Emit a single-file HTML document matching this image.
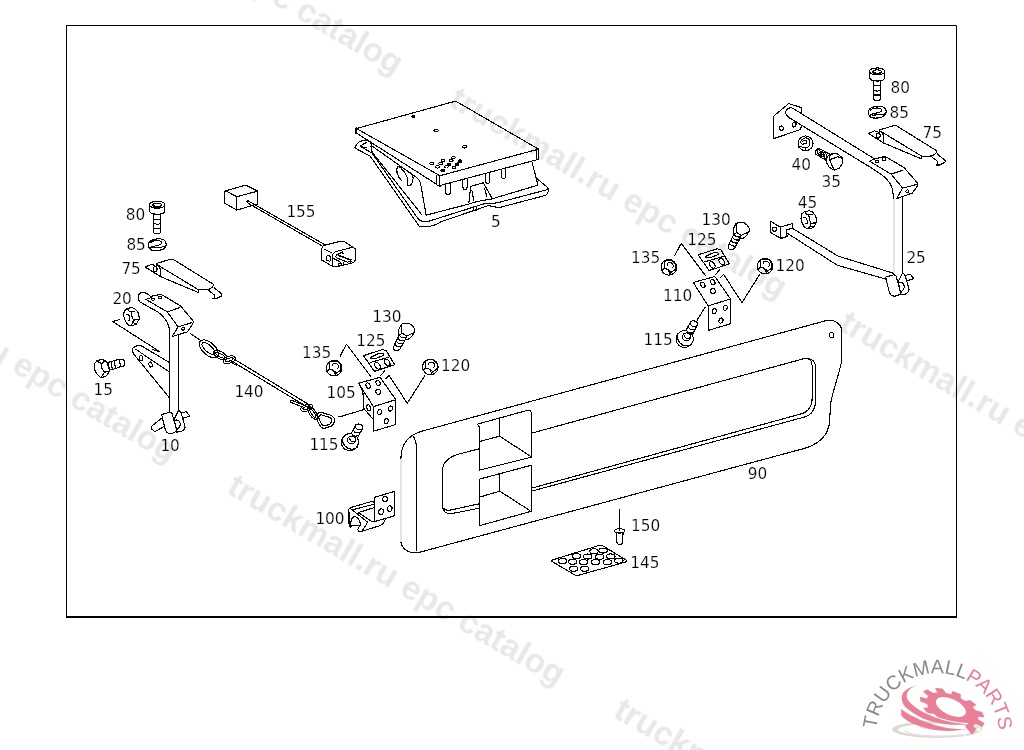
<!DOCTYPE html>
<html><head><meta charset="utf-8"><title>EPC catalog</title>
<style>
html,body{margin:0;padding:0;background:#fff;}
body{width:1024px;height:750px;overflow:hidden;position:relative;}
svg{position:absolute;left:0;top:0;display:block;}
.wm{text-rendering:geometricPrecision;font-family:"Liberation Sans",sans-serif;font-weight:bold;font-size:33.4px;fill:#e8e8e8;}
.lb{font-family:"DejaVu Sans",sans-serif;font-size:15.3px;fill:#000;stroke:#fff;stroke-width:.2px;}
.p{shape-rendering:crispEdges;fill:none;stroke:#000;stroke-width:1.1;stroke-linejoin:round;stroke-linecap:round;}
.pf{fill:#fff;stroke:#000;stroke-width:1;stroke-linejoin:round;stroke-linecap:round;}
</style></head><body>
<svg width="1024" height="750" viewBox="0 0 1024 750">
<!-- WATERMARKS -->
<g id="wm" opacity="0.999">
<text class="wm" transform="translate(63.5 -119) rotate(30.4)">truckmall.ru epc catalog</text>
<text class="wm" transform="translate(-162.5 269) rotate(30.4)">truckmall.ru epc catalog</text>
<text class="wm" transform="translate(447.5 105) rotate(30.4)">truckmall.ru epc catalog</text>
<text class="wm" transform="translate(225.5 492) rotate(30.4)">truckmall.ru epc catalog</text>
<text class="wm" transform="translate(837.5 329) rotate(30.4)">truckmall.ru epc catalog</text>
<text class="wm" transform="translate(612 716) rotate(30.4)">truckmall.ru epc catalog</text>
</g>
<!-- FRAME -->
<path d="M66.5 25.5H956.5V616.5" fill="none" stroke="#000" stroke-width="1"/>
<path d="M66.5 25V617" fill="none" stroke="#000" stroke-width="1"/>
<path d="M66 617H957" fill="none" stroke="#000" stroke-width="2"/>
<!-- PARTS -->
<g id="parts" class="p" transform="translate(0.13 0.13)">
<!-- 5 box -->
<path d="M356.4 128.4L454 101.4C455.5 101 456.5 101.4 458 102.4L538.4 149L439.8 175.6Z"/>
<path d="M356.4 128.4V133L436.8 184.4L436.8 175.6M439.8 175.6V185.4L536 159.8M538.4 149V159.2L536 159.8V150" />
<path d="M356.1 128.2V133.2" stroke-width="2"/>
<path d="M437 185L440 186.2"/>
<!-- holes on lid -->
<circle cx="413" cy="116.4" r="1.3" fill="#000"/>
<ellipse cx="436" cy="130.4" rx="2.1" ry="1.5"/>
<ellipse cx="464.6" cy="146.4" rx="2.1" ry="1.5"/>
<g stroke-width="1">
<ellipse cx="431.6" cy="163.4" rx="1.9" ry="1.3"/>
<ellipse cx="440.6" cy="163.4" rx="1.9" ry="1.3"/>
<ellipse cx="443" cy="160.5" rx="1.9" ry="1.3"/>
<ellipse cx="437.3" cy="166.7" rx="1.9" ry="1.3"/>
<ellipse cx="446.3" cy="166.6" rx="1.9" ry="1.3"/>
<ellipse cx="448.9" cy="164.1" rx="1.9" ry="1.3" fill="#000"/>
<ellipse cx="451.1" cy="160.6" rx="1.9" ry="1.3"/>
<ellipse cx="453.3" cy="157.5" rx="1.9" ry="1.3"/>
<ellipse cx="453.8" cy="167.4" rx="1.9" ry="1.3"/>
<ellipse cx="457.1" cy="164.1" rx="1.9" ry="1.3" fill="#000"/>
<ellipse cx="459.9" cy="161" rx="1.9" ry="1.3" fill="#000"/>
<ellipse cx="442.6" cy="170.2" rx="1.9" ry="1.3" fill="#000"/>
</g>
<!-- left flange & walls -->
<path d="M363 140.4C359 141 357 142.5 354.6 147.8L370 156L419 226"/>
<path d="M360 146L366 142.4M360 146.4L366.5 147.5"/>
<path d="M360.5 146.5L372 153L416 216C418 219 422 222.6 427 221.6"/>
<path d="M363 140.4C367 139.6 370.4 141.4 371 143.4L372 146L417 177.8C419 179.5 420 181 420.4 183L426 215"/>
<path d="M370.8 146L372 152L421.5 214.4"/>
<path d="M397.8 165.8C396 169 396 175 401.4 180.6M397.8 165.8C402 168 407 175 407.4 178.5C407.8 182 406 184.5 407.6 185.6C410 186.6 413 183 413 178C413 175 411.5 173.5 409.8 172.4"/>
<!-- pegs -->
<path d="M445.6 185V192.6C445.6 195.6 450.2 195.6 450.2 192.6V183.8"/>
<path d="M462.8 180.4V187C462.8 190 467 190 467 187V179.2"/>
<path d="M485.6 174.2V181C485.6 184 489.8 184 489.8 181V173"/>
<path d="M501.2 170V176.2C501.2 179 505.4 179 505.4 176.2V168.8"/>
<!-- tab -->
<path d="M468.8 202.4L470.6 186.2L483.2 182.6L491.6 197.6M471.8 190.4L473.6 200.6M484.4 188L486.8 197"/>
<!-- right wall and flange -->
<path d="M531.8 161.6L537.8 185L491.6 198.8C484 200.4 478 200.4 470 203.6L426 215"/>
<path d="M536 177.8L546.8 186.8C549 189 549 192 545.6 195.2L500 207.2C496 208.2 492 204.6 486 206L479.6 208.4L441 221.6C437 224 433 226.2 428 226.2L419 226"/>
<path d="M547.6 189.4L497.6 202.6C492 204 486 202 478.4 205.4L427 221.6"/>
<ellipse cx="474.8" cy="208.6" rx="1.8" ry="2.2"/>
<!-- 100 hinge -->
<path d="M374.5 497.2L394.5 491.2L394.8 515.5L374.5 521.5Z"/>
<ellipse cx="385" cy="499" rx="2.4" ry="2.8" transform="rotate(20 385 499)"/>
<ellipse cx="389.5" cy="508.5" rx="2.4" ry="2.8" transform="rotate(20 389.5 508.5)"/>
<ellipse cx="381" cy="511.5" rx="2.4" ry="2.8" transform="rotate(20 381 511.5)"/>
<path d="M374.5 502.5L372 501.2L350 507.5L348.5 509.5L349 526L350.5 527.5M353 509.5L374 504M358 512.5L374 507.5M350 508L367.5 522M358 512.5L372 521.5H374.5"/>
<path d="M367.5 522L362 531H358.5L357.5 529.5L360 525M362 531L380 525.5C383 524 384.5 521.5 385 519.5"/>
<path d="M350.5 526L351 520C351.6 518 352.6 517 354 516.5C355.4 516.4 356.6 517 357.5 518C359 519.6 359.8 521.4 360 523V525Z"/>
<path d="M349.4 512V526.5"/>
<!-- 150 rivet, 145 mat -->
<path d="M619.5 509V530"/>
<ellipse cx="619.5" cy="530.8" rx="5.2" ry="2.1"/>
<path d="M616.3 532.8L616.8 542C617.4 545.4 622 545.4 622.6 542L622.9 532.8"/>
<path d="M553 559.6L598 545.6C600 545 602 545.2 603.6 546.2L625.4 559.6C627 560.8 626.6 561.6 625 562L579 575C577 575.6 575.4 575.4 574 574.4L552.4 561.6C551 560.6 551.6 560 553 559.6Z"/>
<g>
<ellipse cx="593.9" cy="551.1" rx="4.2" ry="2.5"/><ellipse cx="603" cy="550.4" rx="4.2" ry="2.5"/>
<ellipse cx="576.4" cy="556" rx="4.2" ry="2.5"/><ellipse cx="587.6" cy="556.4" rx="4.2" ry="2.5"/><ellipse cx="599.5" cy="556.7" rx="4.2" ry="2.5"/><ellipse cx="610.7" cy="556.3" rx="4.2" ry="2.5"/>
<ellipse cx="562.4" cy="560.9" rx="4.2" ry="2.5"/><ellipse cx="572.5" cy="561.6" rx="4.2" ry="2.5"/><ellipse cx="583.4" cy="562" rx="4.2" ry="2.5"/><ellipse cx="595.3" cy="562" rx="4.2" ry="2.5"/><ellipse cx="607.2" cy="562" rx="4.2" ry="2.5"/><ellipse cx="618.7" cy="560.5" rx="4.2" ry="2.5"/>
<ellipse cx="573.6" cy="568.6" rx="4.2" ry="2.5"/><ellipse cx="584.5" cy="568.6" rx="4.2" ry="2.5"/>
</g>
<!-- hinge groups -->
<defs>
<g id="hcommon">
<!-- bolt 130 -->
<path d="M401.2 324.3L403.6 323.1L409 323.1L412.6 326.1L414.7 329.4C415 331 414.6 332 413.8 333L411.4 336.6L407.8 339.3L405.4 339.6"/>
<path d="M401.2 324.3L401.8 333L406.4 336L413.8 332.6M401.2 324.3L398.5 329.4L398.8 335.4L401.8 333M406.4 336L405.4 339.6"/>
<path d="M398.8 335.4L393.4 346.6C393 349 394 350.4 396 350.7C397.6 350.8 399 350 400 348.6L405.6 338.6"/>
<path d="M397.6 338C398.6 340 401.6 341 404 340.6M396.2 341C397.2 343 400.2 344 402.6 343.6M394.8 344C395.8 346 398.8 347 401.2 346.6M399.4 335.4C400.4 337 403 338 405.4 337.6"/>
<!-- plate 125 -->
<path d="M363.3 355.5L382.6 349.4L386.2 350.7L394.5 364.6L374.3 371.2Z"/>
<path d="M370.3 357.3L378.2 353.6H383.1L384 354.9L375.6 358.4H370.8Z"/>
<path d="M369.9 362.4L388.8 357.1"/>
<ellipse cx="377.4" cy="365.6" rx="2.3" ry="3.7" transform="rotate(-35 377.4 365.6)"/>
<ellipse cx="387" cy="362.4" rx="2.3" ry="3.7" transform="rotate(-35 387 362.4)"/>
<!-- nut 135 -->
<g id="fnut">
<circle cx="334" cy="368" r="7.8"/>
<path d="M329.6 362.2L331.6 361L336.8 361L339.2 363L340.8 365.4V369.4L338.8 371.4L336.4 372.6L333.2 370.2L329.6 369Z"/>
<path d="M332.4 365.8V364.2C333 363.4 333.6 363.2 334 363.2L336.4 363.4C337.2 363.8 337.6 364.4 338 365L338.6 367.4L337.2 368.6"/>
<path d="M329.6 369L327.4 371M333.2 370.2L335.2 374M336.4 372.6L335.2 374.4"/>
</g>
<!-- nut 120 -->
<use href="#fnut" transform="translate(96.2 -1.2)"/>
<!-- leaders -->
<path d="M340 356L346.4 344L370.4 376M424.8 375.2L407.2 403.2L388.8 375.2L385.6 378.4M384.8 370.4L380.8 375.2"/>
<!-- bracket -->
<path d="M358.4 383.1L380 377.2L395.7 399.6L373.3 406.5ZM373.3 406.5V431.1L395.7 424.4V399.6"/>
<ellipse cx="368" cy="385.5" rx="2" ry="2.8" transform="rotate(-25 368 385.5)"/>
<ellipse cx="377.9" cy="382.8" rx="2" ry="2.8" transform="rotate(-25 377.9 382.8)"/>
<ellipse cx="378.1" cy="391.6" rx="2.4" ry="2.6" transform="rotate(-25 378.1 391.6)"/>
<ellipse cx="379.5" cy="411.9" rx="2" ry="2.6" transform="rotate(20 379.5 411.9)"/>
<ellipse cx="390.4" cy="408.4" rx="2" ry="2.6" transform="rotate(20 390.4 408.4)"/>
<ellipse cx="386.1" cy="421.2" rx="2" ry="2.6" transform="rotate(20 386.1 421.2)"/>
</g>
<g id="b115">
<ellipse cx="349.8" cy="442" rx="8.7" ry="8.4" transform="rotate(-30 349.8 442)"/>
<path d="M342.6 438.6C342 444 346 448.6 351 449C353.6 449.2 355.6 448.4 357 447"/>
<ellipse cx="351.6" cy="439.8" rx="4.2" ry="3.8"/>
<path d="M349.6 438.6C350 441 352 442 354.6 441"/>
<path fill="#fff" d="M351 433.5L355.8 424.7C357 423.6 360 423.6 361.4 424.8C362.4 425.6 362.8 426.6 362.7 427.6L357.9 437"/>
<path d="M355.5 427.1C356 428.6 357 429.4 358.4 429.6C359.6 429.8 360.8 429.6 361.7 429.2M353.7 430.5C354.2 432 355.2 432.6 356.6 432.8C357.8 433 359 432.6 360.1 432.1M351.8 433.7C352.4 435.2 353.4 435.8 354.8 436C356 436.2 357.4 435.8 358.5 435.1"/>
</g>
</defs>
<use href="#hcommon"/>
<use href="#b115"/>
<path d="M358.4 383.1L362.7 390.8L363.7 408.4L373.3 419.6M339.2 416.7L363.2 409.7"/>
<ellipse cx="368.5" cy="407.6" rx="1.8" ry="3.2" transform="rotate(-15 368.5 407.6)"/>
<use href="#hcommon" transform="translate(334.7 -100.8)"/>
<use href="#b115" transform="translate(334.8 -103.2)"/>
<path d="M697 320L705 307"/>
<!-- 10 bracket left, 20 nut, 15 bolt -->
<path d="M138.4 298C138 295 139 293.2 141 292.4C143.2 291.6 146 293 148.6 294.6L150.4 296.2L160 294.4L162.4 295L180.4 305.8L193 320.8C193.4 322 193 323 192.4 323.8L187.6 331.6L172 336.4"/>
<path d="M187.6 331.6L178.4 334.6L178.6 411"/>
<path d="M138.4 298C138.6 300 139 301 139.8 301.8L157.6 311.8C161 314 163.6 316.6 165.4 319.6C167.6 323 169 325.6 169.2 329L169.5 411"/>
<path d="M145.6 299.2L167.2 311.8L178 326.8L172 336.4M167.2 311.8L179.2 307.6M178 326.8L191.2 322.6M145.6 299.2L151 297.6"/>
<ellipse cx="152.8" cy="299" rx="1.5" ry="1.1"/>
<ellipse cx="159.8" cy="297.4" rx="1.7" ry="1.3"/>
<ellipse cx="183" cy="328.6" rx="1.5" ry="1.3" transform="rotate(-30 183 328.6)"/>
<!-- leader -->
<path d="M119.2 319.4L112.6 321.4L159.4 351.4L152.4 349.4"/>
<!-- gusset -->
<path d="M169.2 362.4L140.8 345.4L135.4 346L132.4 348.4L133 353.2L169.2 397.6M135.4 349L169.2 371.8"/>
<ellipse cx="141" cy="358" rx="1.6" ry="2.6" transform="rotate(-10 141 358)"/>
<ellipse cx="150.4" cy="364.4" rx="1.6" ry="2.6" transform="rotate(-10 150.4 364.4)"/>
<!-- clamp -->
<path d="M161.5 414.5L170 412L172 413.5L176.5 430C176.6 431.4 175.4 432 174 432.5C172.6 433.2 171.4 433.5 170 433.5C168.6 433.5 167.4 432.8 166.5 432C165.6 431 165.2 430 165 429Z"/>
<path d="M161.5 418L151.5 426C151 427 151 428 151.5 429L155 431.5L163.5 426.5"/>
<path d="M178.7 410L174 419L176 428L176.5 432L181 431.5C182.6 430.8 183.8 429.6 184.5 428.5C185 427.6 185 426.8 184.8 426L182.5 418L181 413Z"/>
<path d="M175 420C177 419.6 178.4 420.2 179 421C180 422.4 180.4 423.6 180 425C179.6 426.8 178.4 428.4 177 429.5"/>
<path d="M181 413L186 411.5L189.8 416L183 418"/>
<!-- nut 20 -->
<g id="nut20">
<path d="M123.5 315.1L124.2 310.6L127.2 308.3L131.7 307.4L134.7 308.5L137.6 311.7L138.8 315.1L139.1 318.8L137.6 321.4L136.2 324L132 325.5L129.4 325.5L126.5 323.3L124.6 319.5Z"/>
<path d="M127.2 308.3L129.1 311L131.3 311.7L132 316.9L133.5 319.9L132.4 322.9L130.9 325.3M129.1 311.3H134.7M133.5 319.9L138.8 319.5M132.6 322.6L136.4 323.6"/>
<path d="M126.1 314.3C127.4 314.1 128 314.3 128.3 314.7C129.2 315.4 129.6 316 129.6 316.9V320.3L127.9 320.5"/>
</g>
<!-- bolt 15 -->
<g id="bolt15">
<path d="M94.2 368.7L94.4 363.4L96.8 360.6L101.6 359.3L104.7 360.4L106.9 362.6L108.2 366.5L109.6 370.9L107.4 374L105.6 376.4L100.8 377.5L96.8 374L95 370.5Z"/>
<path d="M96.8 360.6L99 362.3L101.6 363.4L101.2 367L104.3 372.2L100.8 377.5M101.6 363.4L104.7 360.4M104.3 372.2L108.6 370.9"/>
<path d="M106.9 362.6L112.6 361L115.3 360.1L119.7 359.3L122.8 359C124 360 124.6 361 124.5 361.7V364.3C124.4 365.4 123.6 366 122.8 366.5L118.8 367L115.3 368.5L109.6 369.8"/>
<path d="M111.3 362.3L112 368.9M114.4 361.2L115.3 368.5M119.5 359.5L120.3 366.5M108.4 363.4L109.2 369.6"/>
</g>
<!-- 140 chain -->
<path d="M189.8 333L200.2 340.2"/>
<g transform="rotate(42 208.7 348.7)">
<ellipse cx="208.7" cy="348.7" rx="11.4" ry="6.2"/>
<ellipse cx="208" cy="348.7" rx="8" ry="3.4"/>
</g>
<g transform="rotate(28 221 355.6)">
<ellipse cx="220" cy="355.6" rx="7.4" ry="3.6"/>
<ellipse cx="220" cy="355.6" rx="5" ry="1.6"/>
</g>
<g transform="rotate(-18 229 359.6)">
<ellipse cx="229" cy="359.6" rx="6.4" ry="3.4"/>
<ellipse cx="229" cy="359.6" rx="4" ry="1.4"/>
</g>
<path d="M232 357.8L309 404.6M230.6 360.4L305 405.6M231 362L236 365"/>
<path d="M290.6 400.6C290 401.6 290.6 402.4 291.4 402.6L300.4 406M291.6 400.2L301 404"/>
<g transform="rotate(-18 306.6 407.6)">
<ellipse cx="306.6" cy="407.6" rx="6.4" ry="3.2"/>
<ellipse cx="306.6" cy="407.6" rx="4" ry="1.3"/>
</g>
<g transform="rotate(55 312.6 413)">
<ellipse cx="312.6" cy="413" rx="7.6" ry="3.2"/>
<ellipse cx="312.6" cy="413" rx="5.2" ry="1.4"/>
</g>
<path d="M315.4 417C316 414 318 412.4 321 412.2L329 414.6C332 415.6 334.8 418 334.6 420.2C334.4 422.6 333 424.6 331.4 425.8L324.2 428.2C322 428.6 320 426 318.6 423.4Z"/>
<path d="M318.4 417.4C318.8 415.6 320 414.6 321.6 414.8L328 416.8C330 417.4 331.8 419 331.6 420.4C331.4 422 330.6 423.4 329.4 424.2L324.4 425.8C323 426 321.6 424.4 320.6 422.4Z"/>
<path d="M338.6 416.7L345 415.4"/>
<!-- 155 cable -->
<path d="M225.6 190.6L245.4 185L257.4 191L236.6 196.6ZM224.6 192V203L236.6 210V196.6M257.4 191V203.8L236.6 210M224.6 192L225.6 190.6"/>
<path d="M247.8 200.6L325.4 245M247 202.5L321.6 245.6M247 202.5C246.6 201.4 247 200.6 247.8 200.6"/>
<path d="M321.2 249.4L322.7 246L324.6 245.1L340 241.2H343.8L352 246.5L355.3 248.9L355.8 259L353.4 262.4L350.5 263.3L338 266.2L333.2 266.7L321.7 260Z"/>
<path d="M352.4 247L343.8 249.4L335.2 251.6L332.3 254.2L332 265.9M324.8 249.2L331.8 252.8"/>
<path d="M326.5 256.2L328 255.2L330.4 256.6V260.6L329.4 261.2L326.5 260Z"/>
<path d="M336.4 254.8L342.4 251.8L343 254M337.4 254.8L351.6 259.8M336.4 257.6L347.6 262.2M339.4 255.8L350.6 260M333 258L340.6 262.2M336.4 254.8C335.4 256 335.6 257 336.4 257.6M338 263.4H341V265.2H338ZM348 261.2H351L350.6 262.8M343 262.4L343.4 264.6"/>
<!-- 80 bolt left, 85 washer left, 75 plate left -->
<g id="bolt80">
<ellipse cx="157" cy="204.6" rx="7.7" ry="3.5"/>
<path d="M149.3 204.6V210C149.3 212 151 213.4 153.2 213.8M164.7 204.6V210C164.7 212 163 213.4 161 213.8M153.2 213.6C155.5 214.4 158.5 214.4 161 213.6"/>
<ellipse cx="157" cy="205" rx="4.3" ry="1.9"/>
<path d="M154.4 205.8C156 207.4 158.4 207.4 160 205.8" stroke-width="1.4"/>
<path d="M153.5 213.8V231.6C153.5 234.4 160.5 234.4 160.5 231.6V213.8M153.5 219H160.5M153.5 223.2C155 223 156 224.4 157.2 224.4C158.4 224.4 159.4 223 160.5 223.2M153.5 228.2H160.5"/>
</g>
<g id="washer85">
<path d="M148.4 244.6C148.4 241.6 150.4 240.4 153 239.6C156 238.6 160 238.4 163 239.4C165.4 240.4 166 242.6 166 244.4C166 246.6 164.6 248.2 163 249C160.4 250.4 156.4 250.8 153 250.4C150.4 250 148.4 248 148.4 244.6Z"/>
<path d="M150 242.6C152 240.8 156 240.2 159 240.6C161.4 241 162 242.4 161 243.8C160 245 158 245.2 156 245.6L152 246.6C150.4 247.2 150 248 150.6 248.6M152 247.6L160 247.2L164.6 246.4"/>
</g>
<g id="plate75">
<path d="M156 263.5L170 259.2H173L213.8 284.5C213 286.6 211.4 288.2 210 288.6C208.4 289.4 207 289.6 205 289.7H198.5V292.5L160.4 276.5"/>
<path d="M157.4 264.8L198.5 289.7M156 263.5V266.5M157.4 264.8L160.5 269V276.5"/>
<path d="M154 265L151 264.3L145.2 267L160.4 276.5"/>
<ellipse cx="155" cy="269" rx="1.9" ry="2.6"/>
<path d="M214 287.5L221.8 294C222 295 221.8 295.6 221.5 295.8L216 298.5H212.5M214.5 295V298M207.5 289.6L214.5 295"/>
</g>
<!-- 90 panel -->
<path d="M401 458.5V541.5" stroke="#e4e4e4" stroke-width="2" stroke-linecap="butt"/>
<path d="M400.8 458C401 445 408 435 422 431L824 321C828 320 838 318.5 841.6 329L841.6 360C840 372 832 392 830.4 404L829.6 420C829 436 818 446 796 450.5L420 552C413 554 403 552 400.8 542"/>
<path d="M413 436C415 439 416.4 443 416.4 448V550.5"/>
<path d="M479.4 448.6L460 453.6C450 456 442.4 462 442.4 470V506C442.4 510 445 514 451 513.6L479.4 508"/>
<path d="M443.5 508C445 510 447 510.6 450 510L479.4 503.6"/>
<path d="M531.6 433L802 359C806 358 815.6 357 815.6 368V398C815.6 408 812 415 804 417L531.6 491"/>
<path d="M807 358.6C810 359 812 361 812 366V398C812 406 808 412 800 414L531.6 488"/>
<path d="M477.4 424L528 410C530 409.6 531.6 412 531.6 415V457L479.4 470V430C479.4 427 478.5 425 477.4 424Z"/>
<path d="M499.6 418V436L479.4 441.4M499.6 436L530 456"/>
<path d="M479.4 479L531.6 465V511L479.4 525.6Z"/>
<path d="M499.6 473V491L479.4 497M499.6 491L529 510"/>
<ellipse cx="831.5" cy="335" rx="2.1" ry="2.7"/>
<!-- right assembly -->
<use href="#bolt80" transform="translate(720 -133.3)"/>
<use href="#washer85" transform="translate(720 -132.6)"/>
<use href="#plate75" transform="translate(723.2 -133.6)"/>
<use href="#nut20" transform="translate(677.4 -96.8)"/>
<!-- mounting plate -->
<path d="M801.5 113.5V107.5L788.5 103.5L773.5 116V138.5L800 129.5L801.5 126"/>
<ellipse cx="781.3" cy="128" rx="1.8" ry="2.2"/>
<ellipse cx="794" cy="124.5" rx="1.9" ry="2.5" transform="rotate(20 794 124.5)"/>
<!-- tube -->
<path d="M785.5 113C785.4 110.4 787 108.4 790 107.6C792 107.4 793 108.2 794 109L874 158.5"/>
<path d="M785.5 113C786 115 787.4 116.4 789 117.5L870 167L882 175C885 177 887.4 179.6 889 182C891 185 892.2 188 892.5 190L893.5 199"/>
<path d="M894 199V273" stroke="#e4e4e4" stroke-width="2" stroke-linecap="butt"/>
<path d="M902.4 196.5V272.4"/>
<!-- end block -->
<path d="M869.5 161L874 159L884 156.5L887 157.5L904 167.5L917.5 183C917.8 184.6 917.4 186 916.5 187L912 193L902 196.5L896.5 198.5"/>
<path d="M870 161.5L891 174L902.5 188L896.5 198.5M891 174L903 170M902.5 188L916 184.5"/>
<ellipse cx="877" cy="161.5" rx="1.6" ry="1.1"/>
<ellipse cx="884" cy="158.8" rx="2" ry="1.5"/>
<ellipse cx="907.2" cy="191.2" rx="1.5" ry="1.3" transform="rotate(-30 907.2 191.2)"/>
<!-- lower arm -->
<path d="M770.4 221L780 227L781 238.4L770.4 232.4ZM780 227L792 223.6L792.4 227.6M781 238.4L787 236.4L786 230L792 228"/>
<circle cx="774.4" cy="229" r="2"/>
<path d="M792 228L838 256L893 273M787 233L837 265L886 279"/>
<!-- clamp right (from left clamp, offset) -->
<g transform="translate(724 -137.5)">
<path d="M161.5 414.5L170 412L172 413.5L176.5 430C176.6 431.4 175.4 432 174 432.5C172.6 433.2 171.4 433.5 170 433.5C168.6 433.5 167.4 432.8 166.5 432C165.6 431 165.2 430 165 429Z"/>
<path d="M178.7 410L174 419L176 428L176.5 432L181 431.5C182.6 430.8 183.8 429.6 184.5 428.5C185 427.6 185 426.8 184.8 426L182.5 418L181 413Z"/>
<path d="M175 420C177 419.6 178.4 420.2 179 421C180 422.4 180.4 423.6 180 425C179.6 426.8 178.4 428.4 177 429.5"/>
<path d="M181 413L186 411.5L189.8 416L183 418"/>
</g>
<!-- washer 40 -->
<circle cx="805.5" cy="143.2" r="7.4"/>
<path d="M800.4 142.4C801 139.6 803.4 137.6 806 137.8C808.6 138 810 140.4 809.8 143.2C809.6 146 807.6 147.8 805 147.8C803 147.8 801.4 147 800.6 146"/>
<path d="M800.4 142.4L802.4 144.2L806 143.2C807 142.4 807 141 805.6 140.4C804.4 140 803 140.4 802.2 141.4M805 147.8L805.6 150.4M800.6 146L798.8 147.2"/>
<!-- bolt 35 -->
<path d="M826 157.4L830 154L837 153.5L842 157.5C842.8 159 842.8 161 842.5 163L839 168L834 170L829 167L826 162Z"/>
<path d="M830 154L829.6 159.6L832 165.6L834 170M829.6 159.6L837.6 156.6L842.4 158.4"/>
<path d="M819 148.4L829.6 154M815 153.6L826 160.2M819 148.4C816.6 148 814.6 150 815 153.6"/>
<ellipse cx="819" cy="152.2" rx="1.6" ry="3.2" transform="rotate(-28 819 152.2)"/>
<ellipse cx="822" cy="153.9" rx="1.6" ry="3.2" transform="rotate(-28 822 153.9)"/>
<ellipse cx="825" cy="155.6" rx="1.6" ry="3.2" transform="rotate(-28 825 155.6)"/>
</g>
<!-- LABELS -->
<g id="labels" class="lb">
<text x="286.4" y="216.8">155</text>
<text x="491" y="227.2">5</text>
<text x="747.8" y="478.8">90</text>
<text x="125.8" y="219.8">80</text>
<text x="126.4" y="250.4">85</text>
<text x="121.4" y="273.6">75</text>
<text x="112.4" y="304">20</text>
<text x="93.6" y="394.8">15</text>
<text x="160.4" y="450.6">10</text>
<text x="234.4" y="397.2">140</text>
<text x="302" y="358">135</text>
<text x="372.2" y="321.8">130</text>
<text x="356.2" y="345.8">125</text>
<text x="441" y="371.4">120</text>
<text x="326.6" y="398.2">105</text>
<text x="309.4" y="449.9">115</text>
<text x="315.4" y="524.2">100</text>
<text x="631" y="530.7">150</text>
<text x="630.2" y="568.2">145</text>
<text x="701.6" y="225.2">130</text>
<text x="687.2" y="245.2">125</text>
<text x="631" y="262.8">135</text>
<text x="775.6" y="271.2">120</text>
<text x="663" y="301.2">110</text>
<text x="643.6" y="345.2">115</text>
<text x="890.5" y="93.2">80</text>
<text x="889.5" y="118.2">85</text>
<text x="922.6" y="138">75</text>
<text x="791.6" y="169.8">40</text>
<text x="821.6" y="187">35</text>
<text x="797.8" y="208">45</text>
<text x="906.4" y="263.2">25</text>
</g>
<!-- LOGO -->
<g id="logo">
<path id="logoarc" d="M876.18 729.20A61.6 61.6 0 0 1 998.87 740.47" fill="none"/>
<clipPath id="lmask"><path d="M918.5 685.1C914 686.4 910.6 688 908.6 690.4C907 692.4 906.6 694 906.8 697.3C907 700 910 702.6 914.4 706.4C918 709.6 923 712 928.6 714.5C935 717.6 942 720 948.9 721.6C955 723 961 724 967.2 724.2L967.2 726L962 742H890V685Z"/></clipPath>
<g opacity="0.999">
<g id="shadow">
<path fill="#d9dad4" fill-rule="evenodd" d="M892 729.4A45 8.5 0 1 0 982 729.4A45 8.5 0 1 0 892 729.4ZM898 729.7A41.5 6.3 0 1 0 981 729.7A41.5 6.3 0 1 0 898 729.7Z"/>
<path d="M905 731C915 738 960 738 978 731" fill="none" stroke="#e0e1db" stroke-width="1.4"/>
<path d="M920 727C935 731 965 731 982 727" fill="none" stroke="#e3e4de" stroke-width="1.4"/>
</g>
<path fill-rule="evenodd" fill="#ea8098" transform="translate(952.4 709.6) rotate(25) scale(35 17.4)" d="M0.792 -0.110L0.997 -0.076L0.985 0.175L0.777 0.189L0.726 0.335L0.880 0.476L0.734 0.679L0.552 0.579L0.430 0.675L0.483 0.876L0.250 0.968L0.151 0.786L-0.003 0.800L-0.067 0.998L-0.313 0.950L-0.298 0.743L-0.435 0.671L-0.596 0.803L-0.777 0.630L-0.652 0.464L-0.729 0.329L-0.935 0.353L-0.994 0.110L-0.799 0.038L-0.791 -0.117L-0.978 -0.208L-0.895 -0.445L-0.693 -0.400L-0.602 -0.526L-0.710 -0.704L-0.513 -0.859L-0.366 -0.711L-0.222 -0.769L-0.217 -0.976L0.033 -0.999L0.076 -0.796L0.229 -0.767L0.345 -0.938L0.568 -0.823L0.495 -0.629L0.607 -0.521L0.798 -0.603L0.923 -0.385L0.756 -0.261ZM0.390 -0.1A0.46 0.46 0 1 0 -0.530 -0.1A0.46 0.46 0 1 0 0.390 -0.1Z"/>
<path fill="#fff" stroke="#fff" stroke-width="2.4" d="M918.5 685.1C914 686.4 910.6 688 908.6 690.4C907 692.4 906.6 694 906.8 697.3C907 700 910 702.6 914.4 706.4C918 709.6 923 712 928.6 714.5C935 717.6 942 720 948.9 721.6C955 723 961 724 967.2 724.2L967.2 726L962 742H890V685Z"/>
<use href="#shadow" clip-path="url(#lmask)"/>
<path fill="#ea8098" d="M918.5 685.1C910 687 903 690.5 902 695.5C901 701 903 705.5 908.3 709.5C914 714 921 718 928.6 720.6C936 723 944 724.4 951 724.7C957 725 963 724.8 967.2 724.2C961 724 955 723 948.9 721.6C942 720 935 717.6 928.6 714.5C923 712 918 709.6 914.4 706.4C910 702.6 907 700 906.8 697.3C906.6 694 907 692.4 908.6 690.4C910.6 688 914 686.4 918.5 685.1Z"/>
<path fill="#ea8098" d="M901.2 708.9V715.5C904 719 908 721.6 913.4 723.7C920 726.4 927 728.6 933.7 729.8C940 730.8 947 731.2 953 730.8C957 730.4 960 729.8 962.1 728.8C959 729.2 957 729 954 728.8C947 728.2 940 726.6 933.7 724.7C926 722.4 919 719.6 913.4 716.6C909 714.4 904.6 711.8 901.2 708.9Z"/>
<path fill="#ea8098" d="M964.8 726L968.6 723.6L975.4 731.4L971.6 734.2Z"/>
<text font-family="'Liberation Sans',sans-serif" font-size="19.7" text-rendering="geometricPrecision"><textPath href="#logoarc" startOffset="0"><tspan fill="#8a8a8a">TRUCKMALL</tspan><tspan fill="#ea7e96">PARTS</tspan></textPath></text>
</g>
</g>
</svg>
</body></html>
